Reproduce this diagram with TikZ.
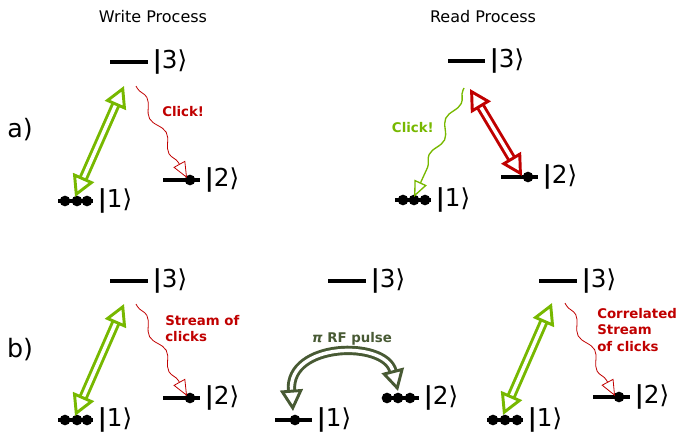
\documentclass[tikz,border=0pt]{standalone}
\usepackage{fontspec}
\setmainfont{DejaVu Sans}
\usetikzlibrary{arrows.meta,decorations.pathmorphing,positioning}

\definecolor{pumpgreen}{RGB}{119,184,0}
\definecolor{clickred}{RGB}{192,0,0}
\definecolor{rfolive}{RGB}{72,90,52}

\tikzset{
  statebar/.style={line width=2.3pt, black},
  ket/.style={anchor=west, inner sep=0pt, xshift=2.5pt, font=\fontsize{18.5}{18}\selectfont},
  atom/.style={fill=black},
  pump/.style={line width=2.2pt, double=white, double distance=2.6pt,
    {Triangle[open,length=16pt,width=17pt]}-{Triangle[open,length=16pt,width=17pt]}},
  photon/.style={line width=0.6pt, decorate,
    decoration={snake, amplitude=3pt, segment length=30pt, pre length=2pt, post length=11pt},
    -{Triangle[open,length=12pt,width=10pt]}},
  clicktext/.style={inner sep=0pt, align=left, font=\fontsize{10}{12.4}\selectfont\bfseries},
  heading/.style={inner sep=0pt, font=\fontsize{12}{14}\selectfont},
  panel/.style={inner sep=0pt, font=\fontsize{19}{20}\selectfont},
}

\begin{document}
\begin{tikzpicture}[x=0.75pt, y=-0.75pt]
	\useasboundingbox (0,0) rectangle (677,432);

	% headings and panel labels
	\node[heading] (writehead) at (153,17) {Write Process};
	\node[heading] (readhead) at (483,17) {Read Process};
	\node[panel] (pa) at (20,130) {a)};
	\node[panel] (pb) at (20,350) {b)};

	% a) write process
	\coordinate (wa3) at (110,62);
	\coordinate (wa2) at (163,180);
	\coordinate (wa1) at (58,201);
	\draw[statebar] (wa3) -- ++(38,0) node[ket] (wa3k) {{\bfseries|}3⟩};
	\draw[statebar] (wa2) -- ++(37,0) node[ket] (wa2k) {{\bfseries|}2⟩};
	\draw[statebar] (wa1) -- ++(35,0) node[ket] (wa1k) {{\bfseries|}1⟩};
	\foreach \dx in {7,19,29} \fill[atom] (wa1) ++(\dx,0) circle[radius=4pt];
	\fill[atom] (wa2) ++(27,0) circle[radius=4pt];

	\coordinate (wa-lo) at (75,197);
	\coordinate (wa-hi) at (124,86);
	\draw[pump, pumpgreen] (wa-lo) -- (wa-hi);
	\coordinate (wa-emit) at (136,86);
	\coordinate (wa-land) at (187,178);
	\draw[photon, clickred] (wa-emit) -- (wa-land);
	\node[clicktext, clickred, anchor=west] (waclick) at (162,112) {Click!};

	% a) read process
	\coordinate (ra3) at (448,61);
	\coordinate (ra2) at (501,177);
	\coordinate (ra1) at (395,200);
	\draw[statebar] (ra3) -- ++(37,0) node[ket] (ra3k) {{\bfseries|}3⟩};
	\draw[statebar] (ra2) -- ++(37,0) node[ket] (ra2k) {{\bfseries|}2⟩};
	\draw[statebar] (ra1) -- ++(36,0) node[ket] (ra1k) {{\bfseries|}1⟩};
	\foreach \dx in {8,19,30} \fill[atom] (ra1) ++(\dx,0) circle[radius=4pt];
	\fill[atom] (ra2) ++(27,0) circle[radius=4pt];

	\coordinate (ra-hi) at (470,89);
	\coordinate (ra-lo) at (522,176);
	\draw[pump, clickred] (ra-hi) -- (ra-lo);
	\coordinate (ra-emit) at (464,88);
	\coordinate (ra-land) at (414,197);
	\draw[photon, pumpgreen, line width=1pt] (ra-emit) -- (ra-land);
	\node[clicktext, pumpgreen, anchor=east] (raclick) at (434,128) {Click!};

	% b) write process
	\coordinate (wb3) at (110,281);
	\coordinate (wb2) at (163,398);
	\coordinate (wb1) at (58,420);
	\draw[statebar] (wb3) -- ++(38,0) node[ket] (wb3k) {{\bfseries|}3⟩};
	\draw[statebar] (wb2) -- ++(37,0) node[ket] (wb2k) {{\bfseries|}2⟩};
	\draw[statebar] (wb1) -- ++(35,0) node[ket] (wb1k) {{\bfseries|}1⟩};
	\foreach \dx in {7,19,29} \fill[atom] (wb1) ++(\dx,0) circle[radius=4pt];
	\fill[atom] (wb2) ++(27,0) circle[radius=4pt];

	\coordinate (wb-lo) at (75,416);
	\coordinate (wb-hi) at (124,304);
	\draw[pump, pumpgreen] (wb-lo) -- (wb-hi);
	\coordinate (wb-emit) at (136,304);
	\coordinate (wb-land) at (187,396);
	\draw[photon, clickred] (wb-emit) -- (wb-land);
	\node[clicktext, clickred, anchor=north west] (wbclick) at (165,315) {Stream of\\clicks};

	% b) rf transfer
	\coordinate (mb3) at (328,281);
	\coordinate (mb2) at (383,398);
	\coordinate (mb1) at (275,420);
	\draw[statebar] (mb3) -- ++(38,0) node[ket] (mb3k) {{\bfseries|}3⟩};
	\draw[statebar] (mb2) -- ++(36,0) node[ket] (mb2k) {{\bfseries|}2⟩};
	\draw[statebar] (mb1) -- ++(37,0) node[ket] (mb1k) {{\bfseries|}1⟩};
	\foreach \dx in {4,15,27} \fill[atom] (mb2) ++(\dx,0) circle[radius=4pt];
	\fill[atom] (mb1) ++(20,0) circle[radius=4pt];

	\coordinate (mb-left) at (293,411);
	\coordinate (mb-right) at (398,391);
	\draw[pump, rfolive] (mb-left) .. controls (288,342) and (385,340) .. (mb-right);
	\node[clicktext, rfolive] (rflabel) at (352,339) {\textit{π} RF pulse};

	% b) read process
	\coordinate (rb3) at (539,281);
	\coordinate (rb2) at (593,397);
	\coordinate (rb1) at (487,420);
	\draw[statebar] (rb3) -- ++(38,0) node[ket] (rb3k) {{\bfseries|}3⟩};
	\draw[statebar] (rb2) -- ++(37,0) node[ket] (rb2k) {{\bfseries|}2⟩};
	\draw[statebar] (rb1) -- ++(36,0) node[ket] (rb1k) {{\bfseries|}1⟩};
	\foreach \dx in {6,18,30} \fill[atom] (rb1) ++(\dx,0) circle[radius=4pt];
	\fill[atom] (rb2) ++(26,0) circle[radius=4pt];

	\coordinate (rb-lo) at (503,415);
	\coordinate (rb-hi) at (552,303);
	\draw[pump, pumpgreen] (rb-lo) -- (rb-hi);
	\coordinate (rb-emit) at (565,303);
	\coordinate (rb-land) at (615,396);
	\draw[photon, clickred] (rb-emit) -- (rb-land);
	\node[clicktext, clickred, anchor=north west] (rbclick) at (597,308) {Correlated\\Stream\\of clicks};
\end{tikzpicture}
\end{document}
